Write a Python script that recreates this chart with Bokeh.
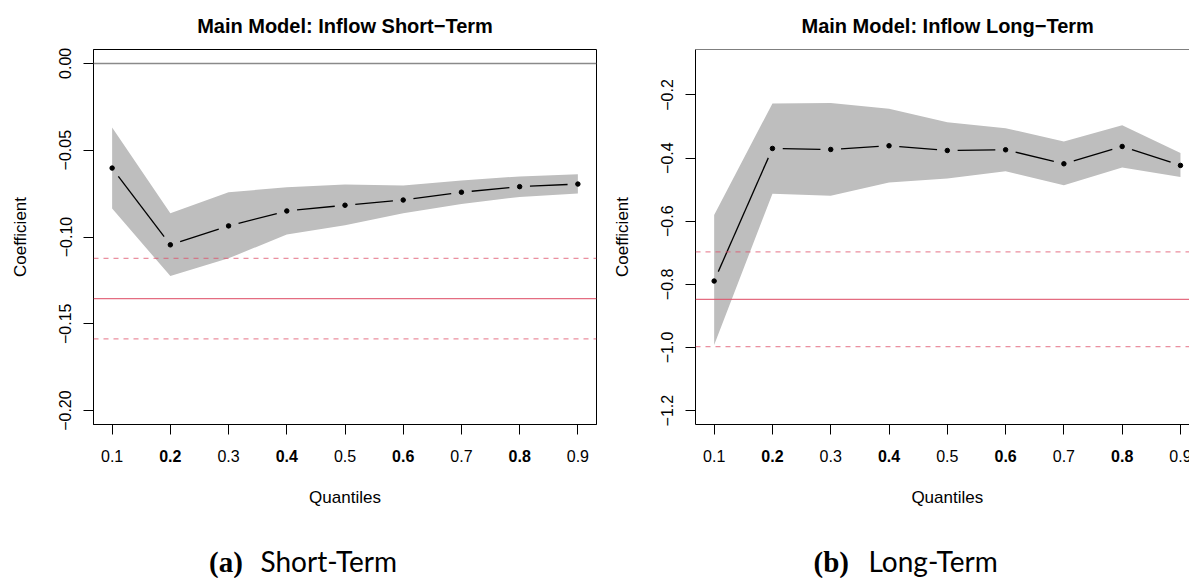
import math
from bokeh.plotting import figure
from bokeh.models import Range1d, Span, FixedTicker, ColumnDataSource
from bokeh.core.properties import value
from bokeh.layouts import row, column
from bokeh.embed import file_html
from bokeh.resources import INLINE

# ---------------- data ----------------
quantiles = [0.1, 0.2, 0.3, 0.4, 0.5, 0.6, 0.7, 0.8, 0.9]
x_tick_labels = ["0.1", "0.2", "0.3", "0.4", "0.5", "0.6", "0.7", "0.8", "0.9"]
x_tick_styles = ["normal", "bold", "normal", "bold", "normal", "bold", "normal", "bold", "normal"]

# Short-term panel
st_coef = [-0.0603, -0.1045, -0.0936, -0.0850, -0.0817, -0.0787, -0.0742, -0.0710, -0.0695]
st_upper = [-0.0369, -0.0863, -0.0742, -0.0714, -0.0697, -0.0704, -0.0674, -0.0651, -0.0639]
st_lower = [-0.0836, -0.1225, -0.1123, -0.0985, -0.0932, -0.0863, -0.0810, -0.0769, -0.0750]
st_ols = -0.1355
st_ols_ci = [-0.1123, -0.1587]
st_y_ticks = [0.0, -0.05, -0.10, -0.15, -0.20]
st_y_labels = ["0.00", "\u22120.05", "\u22120.10", "\u22120.15", "\u22120.20"]

# Long-term panel
lt_coef = [-0.7895, -0.3695, -0.3727, -0.3610, -0.3760, -0.3737, -0.4180, -0.3632, -0.4232]
lt_upper = [-0.5800, -0.2270, -0.2255, -0.2440, -0.2866, -0.3055, -0.3475, -0.2960, -0.3840]
lt_lower = [-0.9920, -0.5126, -0.5190, -0.4770, -0.4650, -0.4420, -0.4864, -0.4296, -0.4602]
lt_ols = -0.8473
lt_ols_ci = [-0.6970, -0.9970]
lt_y_ticks = [-0.2, -0.4, -0.6, -0.8, -1.0, -1.2]
lt_y_labels = ["\u22120.2", "\u22120.4", "\u22120.6", "\u22120.8", "\u22121.0", "\u22121.2"]

SANS = "Liberation Sans"
RED = "#DF536B"
BAND = "#BEBEBE"

PAGE_H = 578
PLOT_H = 442      # plotting figure height (frame 48..424)
STRIP_H = PAGE_H - PLOT_H
TOP, BOTTOM = 48, 18


def gapped_segments(xs, ys, sx, sy, gap=10.3):
    x0, y0, x1, y1 = [], [], [], []
    for i in range(len(xs) - 1):
        dx = (xs[i + 1] - xs[i]) * sx
        dy = (ys[i + 1] - ys[i]) * sy
        t = gap / math.hypot(dx, dy)
        x0.append(xs[i] + t * (xs[i + 1] - xs[i]))
        y0.append(ys[i] + t * (ys[i + 1] - ys[i]))
        x1.append(xs[i + 1] - t * (xs[i + 1] - xs[i]))
        y1.append(ys[i + 1] - t * (ys[i + 1] - ys[i]))
    return x0, y0, x1, y1


def make_panel(title, tag, caption, coef, upper, lower, ols, ols_ci,
               yticks, ylabels, yr, xr, width, border_left, border_right,
               full_box, zero_line, title_align, title_offset, tag_x, cap_x):
    xrange = Range1d(*xr)
    p = figure(width=width, height=PLOT_H, output_backend="svg", toolbar_location=None,
               x_range=xrange, y_range=Range1d(*yr),
               min_border_left=border_left, min_border_right=border_right,
               min_border_top=TOP, min_border_bottom=BOTTOM)
    p.background_fill_color = "white"
    p.border_fill_color = "white"
    p.xgrid.visible = False
    p.ygrid.visible = False
    if full_box:
        p.outline_line_color = "black"
        p.outline_line_width = 1
    else:
        p.outline_line_color = None
        p.add_layout(Span(location=yr[1], dimension="width", line_color="black", line_width=1))

    # title
    p.title.text = title
    p.title.align = title_align
    p.title.offset = title_offset
    p.title.text_font = SANS
    p.title.text_font_size = "20px"
    p.title.text_font_style = "bold"
    p.title.text_color = "black"
    p.title.standoff = 25

    frame_w = width - border_left - border_right
    frame_h = PLOT_H - TOP - BOTTOM
    sx = frame_w / (xr[1] - xr[0])
    sy = frame_h / (yr[1] - yr[0])

    # x axis: ticks only (labels drawn in the strip below)
    p.xaxis.ticker = FixedTicker(ticks=quantiles)
    p.xaxis.major_label_overrides = {q: "" for q in quantiles}
    p.xaxis.major_label_text_font_size = "0px"
    p.xaxis.major_label_standoff = 0
    p.xaxis.major_tick_out = 10
    p.xaxis.major_tick_in = 0
    p.xaxis.minor_tick_line_color = None
    p.xaxis.axis_line_color = "black"
    p.xaxis.major_tick_line_color = "black"

    # y axis
    p.yaxis.ticker = FixedTicker(ticks=yticks)
    p.yaxis.major_label_overrides = {t: l for t, l in zip(yticks, ylabels)}
    p.yaxis.major_label_orientation = "vertical"
    p.yaxis.major_label_text_font = SANS
    p.yaxis.major_label_text_font_size = "16px"
    p.yaxis.major_label_text_color = "black"
    p.yaxis.major_label_standoff = 12
    p.yaxis.major_tick_out = 10
    p.yaxis.major_tick_in = 0
    p.yaxis.minor_tick_line_color = None
    p.yaxis.axis_line_color = "black"
    p.yaxis.major_tick_line_color = "black"
    p.yaxis.axis_label = "Coefficient"
    p.yaxis.axis_label_text_font = SANS
    p.yaxis.axis_label_text_font_size = "17px"
    p.yaxis.axis_label_text_font_style = "normal"
    p.yaxis.axis_label_text_color = "black"
    p.yaxis.axis_label_standoff = 27

    # reference lines
    if zero_line:
        p.add_layout(Span(location=0, dimension="width", line_color="#8a8a8a", line_width=1.5))
    p.add_layout(Span(location=ols, dimension="width", line_color=RED, line_width=1.3, line_alpha=0.85))
    for c in ols_ci:
        p.add_layout(Span(location=c, dimension="width", line_color=RED, line_width=1.3,
                          line_alpha=0.65, line_dash="5 5"))

    # band, line, points
    p.varea(x=quantiles, y1=lower, y2=upper, fill_color=BAND)
    x0, y0, x1, y1 = gapped_segments(quantiles, coef, sx, sy)
    p.segment(x0=x0, y0=y0, x1=x1, y1=y1, line_color="black", line_width=1.3)
    p.scatter(x=quantiles, y=coef, size=4.5, marker="circle", fill_color="black", line_color="black")

    # ---- strip under the plot: tick labels, x-axis title, caption ----
    s = figure(width=width, height=STRIP_H, output_backend="svg", toolbar_location=None,
               x_range=xrange, y_range=Range1d(0, STRIP_H),
               x_axis_type=None, y_axis_type=None,
               min_border_left=border_left, min_border_right=border_right,
               min_border_top=0, min_border_bottom=0)
    s.outline_line_color = None
    s.background_fill_color = "white"
    s.border_fill_color = "white"
    s.xgrid.visible = False
    s.ygrid.visible = False
    s.extra_x_ranges = {"px": Range1d(0, frame_w)}

    # y positions in the strip: pixels measured up from the page bottom
    tick_src = ColumnDataSource(dict(x=quantiles, text=x_tick_labels, style=x_tick_styles,
                                     y=[PAGE_H - 455.5] * len(quantiles)))
    s.text(x="x", y="y", text="text", source=tick_src, text_font=value(SANS),
           text_font_size=value("16px"), text_font_style="style",
           text_align=value("center"), text_baseline=value("middle"), text_color="black")
    s.text(x=[0.5], y=[PAGE_H - 497.4], text=["Quantiles"], text_font=value(SANS),
           text_font_size=value("17px"), text_align=value("center"),
           text_baseline=value("middle"), text_color="black")
    s.text(x=[tag_x], y=[PAGE_H - 561.5], text=[tag], x_range_name="px",
           text_font=value("Liberation Serif"), text_font_style=value("bold"),
           text_font_size=value("29px"), text_align=value("left"),
           text_baseline=value("middle"), text_color="black")
    s.text(x=[cap_x], y=[PAGE_H - 560.5], text=[caption], x_range_name="px",
           text_font=value("Lato"), text_font_size=value("28px"), text_align=value("left"),
           text_baseline=value("middle"), text_color="black")
    return p, s


lp, ls = make_panel("Main Model: Inflow Short\u2212Term", "(a)", "Short-Term",
                    st_coef, st_upper, st_lower, st_ols, st_ols_ci,
                    st_y_ticks, st_y_labels, (-0.208, 0.008), (0.068, 0.932),
                    width=601, border_left=93, border_right=5, full_box=True, zero_line=True,
                    title_align="center", title_offset=0, tag_x=115.6, cap_x=167)
rp, rs = make_panel("Main Model: Inflow Long\u2212Term", "(b)", "Long-Term",
                    lt_coef, lt_upper, lt_lower, lt_ols, lt_ols_ci,
                    lt_y_ticks, lt_y_labels, (-1.244, -0.056), (0.068, 0.9155),
                    width=588, border_left=94, border_right=0, full_box=False, zero_line=False,
                    title_align="left", title_offset=106, tag_x=118, cap_x=173)

layout = column(row(lp, rp), row(ls, rs))
open("out.html", "w").write(file_html(layout, INLINE))
